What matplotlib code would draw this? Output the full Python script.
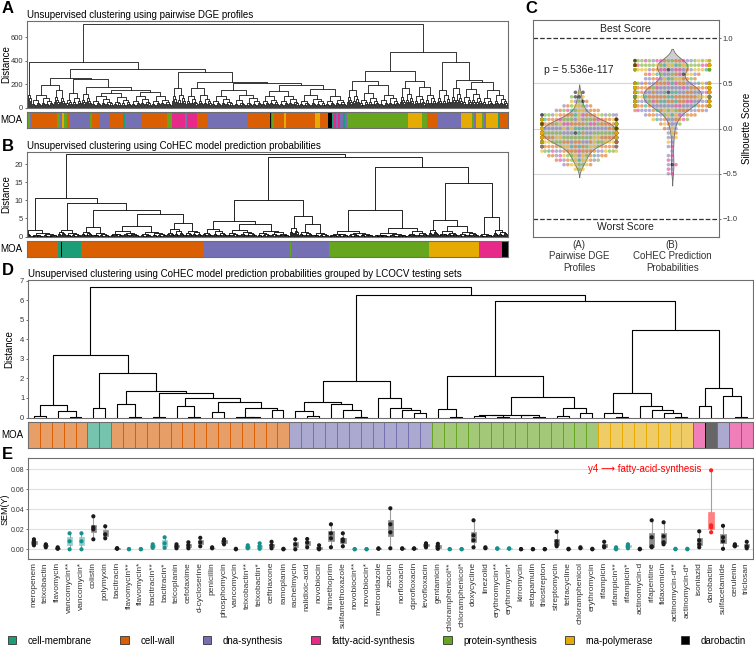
import warnings
warnings.filterwarnings('ignore')
import matplotlib
matplotlib.use('Agg')
import matplotlib.pyplot as plt
from matplotlib.collections import LineCollection
from matplotlib.patches import Patch
import seaborn as sns
import pandas as pd

plt.rcParams['font.family'] = ['Liberation Sans', 'DejaVu Sans']

# ---------------- categories ----------------
MOA_NAMES = ['cell-membrane', 'cell-wall', 'dna-synthesis', 'fatty-acid-synthesis',
             'protein-synthesis', 'rna-polymerase', 'darobactin']
MOA_COLORS = ['#1b9e77', '#d95f02', '#7570b3', '#e7298a', '#66a61e', '#e6ab02', '#000000']
K = dict(mem='cell-membrane', wall='cell-wall', dna='dna-synthesis', fas='fatty-acid-synthesis',
         pro='protein-synthesis', rna='rna-polymerase', dar='darobactin')

# ---------------- panel A: dendrogram (bundles = ('b', n_leaves, height)) ----------------
A_TREE = (712,
  (392,
    ('b', 5, 110),
    (326,
      (255,
        (191, ('b', 22, 110), (146, ('b', 6, 90), ('b', 6, 80))),
        (240, ('b', 16, 120),
              (178, ('b', 10, 115),
                    (148, (120, ('b', 22, 100), ('b', 18, 90)),
                          (135, ('b', 20, 100), ('b', 20, 95)))))),
      (306,
        (163, ('b', 6, 100), ('b', 8, 110)),
        (220, (170, ('b', 12, 100), ('b', 14, 105)),
              (206, (150, ('b', 22, 100), ('b', 28, 110)),
                    (190, (140, ('b', 18, 95), ('b', 20, 100)),
                          (160, ('b', 26, 105), ('b', 21, 95)))))))),
  (470,
    (312,
      (226, (149, ('b', 6, 90), ('b', 7, 100)), (192, ('b', 20, 120), ('b', 20, 110))),
      (226, ('b', 14, 163), (177, ('b', 12, 100), ('b', 11, 110)))),
    (392, ('b', 14, 149), (234, ('b', 12, 163), (220, ('b', 20, 160), ('b', 25, 150))))))

A_STRIP_MOA = ['mem', 'pro', 'dna', 'wall', 'pro', 'dna', 'rna', 'pro', 'wall', 'dna', 'pro', 'wall',
               'dna', 'wall', 'mem', 'dna', 'wall', 'dna', 'wall', 'dna', 'wall', 'pro', 'fas', 'dna',
               'fas', 'wall', 'dna', 'wall', 'dar', 'mem', 'pro', 'wall', 'rna', 'wall', 'rna', 'wall',
               'dar', 'mem', 'fas', 'dna', 'fas', 'dna', 'mem', 'dna', 'pro', 'rna', 'pro', 'wall',
               'dna', 'rna', 'pro', 'dna', 'rna', 'pro', 'dna', 'rna', 'mem', 'wall']
A_STRIP_LEN = [1, 2, 2, 25, 3, 2, 2, 3, 3, 20, 2, 8,
               10, 13, 2, 17, 15, 1, 3, 1, 5, 5, 13, 2,
               10, 10, 41, 22, 1, 1, 2, 10, 2, 29, 5, 8,
               4, 2, 2, 2, 2, 3, 2, 2, 61, 14, 5, 10,
               24, 11, 2, 2, 6, 2, 2, 12, 2, 8]

# ---------------- panel B ----------------
B_TREE = (22.8,
  (10.7,
    (1.68, ('b', 4, 0.7), ('b', 27, 0.9)),
    (9.4,
      (1.9, ('b', 8, 1.2), ('b', 15, 1.0)),
      (7.3,
        (2.6, ('b', 12, 1.3), ('b', 17, 1.0)),
        (6.25,
          (2.8, ('b', 30, 1.5), ('b', 27, 1.3)),
          (3.8, ('b', 18, 2.0), ('b', 18, 1.6)))))),
  (22.0,
    (10.05,
      (4.3, ('b', 24, 2.0), (3.4, ('b', 30, 1.8), ('b', 33, 1.6))),
      (5.6, ('b', 9, 2.3), (3.5, ('b', 14, 1.2), ('b', 16, 1.0)))),
    (19.2,
      (7.45, ('b', 45, 1.5), (2.3, ('b', 34, 1.0), ('b', 21, 1.4))),
      (14.9,
        (4.66, ('b', 10, 1.8), (3.0, ('b', 20, 1.5), ('b', 20, 1.2))),
        (5.4, ('b', 14, 0.6), ('b', 15, 1.8))))))

B_STRIP_MOA = ['wall', 'mem', 'dar', 'mem', 'wall', 'dna', 'pro', 'dna', 'pro', 'rna', 'fas', 'dar']
B_STRIP_LEN = [31, 3, 1, 19, 122, 87, 1, 38, 100, 50, 23, 6]

# ---------------- panel D ----------------
D_TREE = (6.70,
  (3.22,
    (0.63, (0.07, 0, 1), (0.31, 2, (0.01, 3, 4))),
    (2.28,
      (0.48, 5, 6),
      (1.37,
        (0.69, 7, (0.01, 8, 9)),
        (1.25,
          (0.05, 10, 11),
          (0.99,
            (0.58, 12, (0.05, 13, 14)),
            (0.82,
              (0.26, 15, 16),
              (0.51, (0.02, 17, (0.005, 18, 19)), (0.38, 20, 21)))))))),
  (6.27,
    (1.88,
      (0.82,
        (0.33, 22, (0.10, 23, 24)),
        (0.67, 25, (0.36, 26, (0.01, 27, 28)))),
      (0.99, 29, (0.48, 30, (0.38, 31, (0.22, 32, 33))))),
    (5.96,
      (2.14,
        (0.43, 34, (0.01, 35, 36)),
        (1.03,
          (0.15, (0.14, (0.09, 37, 38), (0.05, 39, 40)), (0.11, 41, (0.03, 42, 43))),
          (0.48, (0.09, 44, 45), (0.24, 46, 47)))),
      (4.51,
        (1.25,
          (0.21, 48, (0.02, 49, 50)),
          (0.57, 51, (0.36, 52, (0.21, 53, (0.01, 54, 55))))),
        (1.51,
          (0.57, 56, 57),
          (1.11, 58, (0.05, 59, 60)))))))
D_STRIP_MOA = ['wall', 'mem', 'wall', 'dna', 'pro', 'rna', 'fas', 'dar', 'dna', 'fas']
D_STRIP_LEN = [5, 2, 15, 12, 14, 8, 1, 1, 1, 2]

# ---------------- panel C: silhouette scores (binned counts per MOA) ----------------
C_BINS_A = [-0.45, -0.40, -0.35, -0.30, -0.25, -0.20, -0.15, -0.10, -0.05, 0.00,
            0.05, 0.10, 0.15, 0.20, 0.25, 0.30, 0.35, 0.40]
C_COUNTS_A = {
    'mem':  [0, 0, 1, 1, 1, 2, 3, 3, 3, 3, 3, 2, 1, 1, 0, 0, 0, 0],
    'wall': [0, 2, 3, 5, 8, 11, 20, 24, 26, 26, 22, 14, 7, 4, 2, 1, 0, 0],
    'dna':  [0, 1, 2, 3, 4, 6, 11, 14, 15, 15, 13, 9, 5, 2, 2, 1, 0, 0],
    'fas':  [0, 0, 1, 1, 2, 2, 4, 4, 5, 5, 4, 3, 1, 1, 0, 0, 0, 0],
    'pro':  [1, 2, 2, 3, 3, 5, 9, 11, 12, 12, 11, 8, 4, 2, 2, 1, 1, 0],
    'rna':  [2, 3, 3, 3, 3, 4, 7, 9, 9, 9, 7, 5, 3, 2, 2, 1, 1, 1],
    'dar':  [0, 0, 0, 0, 0, 0, 0, 0, 1, 1, 1, 1, 1, 0, 0, 1, 2, 2],
}
C_BINS_B = [-0.50, -0.45, -0.40, -0.35, -0.30, -0.25, -0.20, -0.15, -0.10, -0.05, 0.00,
            0.05, 0.10, 0.15, 0.20, 0.25, 0.30, 0.35, 0.40, 0.45, 0.50, 0.55, 0.60,
            0.65, 0.70, 0.75]
C_COUNTS_B = {
    'mem':  [0, 0, 0, 0, 0, 0, 0, 0, 0, 0, 0, 0, 1, 1, 1, 3, 3, 3, 3, 3, 2, 1, 1, 2, 3, 2],
    'wall': [0, 0, 0, 0, 0, 0, 0, 0, 0, 1, 1, 2, 3, 5, 8, 22, 26, 26, 26, 22, 12, 4, 3, 3, 5, 3],
    'dna':  [1, 1, 1, 1, 1, 1, 1, 1, 2, 1, 2, 2, 3, 4, 6, 11, 14, 14, 14, 13, 9, 3, 3, 4, 6, 3],
    'fas':  [1, 1, 1, 1, 1, 0, 1, 0, 0, 0, 0, 0, 1, 1, 1, 2, 3, 3, 3, 3, 2, 1, 2, 4, 7, 4],
    'pro':  [0, 0, 0, 0, 0, 0, 0, 0, 0, 0, 0, 1, 1, 1, 2, 4, 5, 5, 6, 6, 4, 2, 2, 7, 13, 7],
    'rna':  [0, 0, 0, 0, 0, 0, 0, 1, 1, 1, 1, 1, 1, 2, 2, 4, 5, 5, 6, 6, 4, 3, 3, 7, 11, 6],
    'dar':  [0, 0, 1, 0, 0, 0, 0, 0, 0, 0, 0, 0, 0, 0, 0, 0, 0, 0, 1, 0, 0, 0, 1, 1, 1, 1],
}
C_GROUPS = ['(A)\nPairwise DGE\nProfiles', '(B)\nCoHEC Prediction\nProbabilities']
C_PVALUE = 'p = 5.536e-117'

# ---------------- panel E ----------------
E_LABELS = ['meropenem', 'teixobactin', 'flavomycin', 'vancomycin**', 'vancomycin*', 'colistin',
            'polymyxin', 'bacitracin', 'flavomycin**', 'flavomycin*', 'bacitracin**', 'bacitracin*',
            'teicoplanin', 'cefotaxime', 'd-cycloserine', 'penicillin', 'phosphomycin', 'vancomycin',
            'teixobactin**', 'teixobactin*', 'ceftriaxone', 'ramoplanin', 'rachelmycin',
            'nalidixic-acid', 'novobiocin', 'trimethoprim', 'sulfamethoxazole', 'novobiocin**',
            'novobiocin*', 'metronidazole', 'zeocin', 'norfloxacin', 'ciprofloxacin', 'levofloxacin',
            'gentamicin', 'chloramphenicol**', 'chloramphenicol*', 'doxycycline', 'linezolid',
            'erythromycin**', 'erythromycin*', 'kirromycin', 'retapamulin', 'thiostrepton',
            'streptomycin', 'tetracycline', 'chloramphenicol', 'erythromycin', 'rifampicin',
            'rifampicin**', 'rifampicin*', 'actinomycin-d', 'rifapentine', 'fidaxomicin',
            'actinomycin-d**', 'actinomycin-d*', 'isoniazid', 'darobactin', 'sulfacetamide',
            'cerulenin', 'triclosan']
E_VALUES = [
    [0.010, 0.008, 0.006, 0.004], [0.005, 0.004, 0.002], [0.002, 0.001, 0.0005],
    [0.016, 0.008, 0.0], [0.016, 0.008, 0.0], [0.033, 0.022, 0.020, 0.010],
    [0.023, 0.015, 0.011], [0.001, 0.0005, 0.001], [0.0, 0.0003], [0.0, 0.0003],
    [0.005, 0.003, 0.0015], [0.012, 0.006, 0.0015], [0.005, 0.003, 0.001],
    [0.007, 0.004, 0.001], [0.0115, 0.007, 0.003], [0.002, 0.001], [0.010, 0.008, 0.005],
    [0.0, 0.0005], [0.004, 0.002, 0.001], [0.006, 0.003, 0.0005], [0.0075, 0.004, 0.001],
    [0.0, 0.0005], [0.010, 0.005, 0.0], [0.0103, 0.0067, 0.002], [0.004, 0.001, 0.0],
    [0.025, 0.016, 0.011, 0.002], [0.016, 0.010, 0.008, 0.003], [0.0, 0.0002], [0.0, 0.0002],
    [0.0005, 0.001], [0.041, 0.025, 0.017, 0.001], [0.001, 0.0005], [0.0005, 0.001],
    [0.006, 0.004, 0.002], [0.0055, 0.003, 0.0005], [0.0003, 0.0], [0.0003, 0.0],
    [0.029, 0.014, 0.009, 0.002], [0.002, 0.001], [0.001, 0.0005], [0.001, 0.0005],
    [0.0003, 0.0], [0.0003, 0.0], [0.0003, 0.0], [0.0175, 0.008, 0.005, 0.003],
    [0.0005, 0.0], [0.002, 0.001], [0.0005, 0.0], [0.0075, 0.003, 0.002],
    [0.002, 0.001, 0.0], [0.005, 0.003, 0.001], [0.0005, 0.0], [0.029, 0.012, 0.003, 0.002],
    [0.027, 0.013, 0.007, 0.005], [0.0005, 0.0], [0.0005, 0.0], [0.018, 0.009, 0.005, 0.002],
    [0.079, 0.024, 0.022, 0.017], [0.0235, 0.012, 0.008, 0.0005], [0.005, 0.004, 0.003],
    [0.0075, 0.003, 0.001]]
E_NOTE = 'y4 \u27f6 fatty-acid-synthesis'

# =====================================================================
W, H = 754, 652
fig = plt.figure(figsize=(W / 100, H / 100), dpi=100)
fig.patch.set_facecolor('white')
COL = dict(zip(MOA_NAMES, MOA_COLORS))


def rect(x0, y0, x1, y1):
    return [x0 / W, 1 - y1 / H, (x1 - x0) / W, (y1 - y0) / H]


def style(ax):
    for s in ax.spines.values():
        s.set_color('#6e6e6e')
        s.set_linewidth(0.8)
    ax.tick_params(labelsize=5.5, length=1.5, width=0.5, colors='#333333', pad=1.2)


def ylabel_at(ax, text, right_px, left_px, width_px, fs=7):
    ax.set_ylabel(text, fontsize=fs)
    ax.yaxis.set_label_coords((right_px - left_px) / width_px, 0.5)


def walk(node, state, segs):
    if isinstance(node, int):
        return node + 0.5, 0.0
    if node[0] == 'b':
        _, n, h = node
        if n == 1:
            x = state[0] + 0.5
            state[0] += 1
            return x, 0.0
        a = max(1, (n * 9) // 20)
        return walk((h, ('b', a, h * 0.55), ('b', n - a, h * 0.7)), state, segs)
    h, l, r = node
    xl, hl = walk(l, state, segs)
    xr, hr = walk(r, state, segs)
    segs.append([(xl, hl), (xl, h), (xr, h), (xr, hr)])
    return (xl + xr) / 2, h


def dendro(ax, tree, lw, n=None):
    segs, state = [], [0]
    walk(tree, state, segs)
    ax.add_collection(LineCollection(segs, colors='black', linewidths=lw, capstyle='butt'))
    n = n if n is not None else state[0]
    ax.set_xlim(0, n)
    ax.set_xticks([])
    style(ax)
    return n


def strip(ax, moas, lens, n, alpha=1.0, cells=False):
    left = 0
    for m, L in zip(moas, lens):
        c = COL[K[m]]
        if cells:
            for j in range(L):
                ax.bar(left + j, 1, width=1, align='edge', color=c, alpha=alpha,
                       edgecolor='none')
                ax.bar(left + j, 1, width=1, align='edge', facecolor='none',
                       edgecolor=c, linewidth=0.6)
        else:
            ax.bar(left, 1, width=L, align='edge', color=c, edgecolor='none')
        left += L
    ax.set_xlim(0, n)
    ax.set_ylim(0, 1)
    ax.set_xticks([])
    ax.set_yticks([])
    ax.set_ylabel('MOA', rotation=0, ha='right', va='center', fontsize=7, labelpad=3)
    style(ax)


# ---- A ----
axA = fig.add_axes(rect(27, 21, 507.7, 107.5))
nA = dendro(axA, A_TREE, 0.55)
axA.set_ylim(0, 738)
axA.set_yticks([0, 200, 400, 600])
ylabel_at(axA, 'Distance', 11.5, 27, 480.7)
axA.set_title('Unsupervised clustering using pairwise DGE profiles', loc='left', fontsize=7, pad=2)
axAs = fig.add_axes(rect(27, 112, 507.7, 128))
strip(axAs, A_STRIP_MOA, A_STRIP_LEN, nA)

# ---- B ----
axB = fig.add_axes(rect(27, 151.5, 507.7, 236.5))
nB = dendro(axB, B_TREE, 0.6)
axB.set_ylim(0, 23.6)
axB.set_yticks([0, 5, 10, 15, 20])
ylabel_at(axB, 'Distance', 11.5, 27, 480.7)
axB.set_title('Unsupervised clustering using CoHEC model prediction probabilities', loc='left',
              fontsize=7, pad=2)
axBs = fig.add_axes(rect(27, 240.5, 507.7, 257))
strip(axBs, B_STRIP_MOA, B_STRIP_LEN, nB)

# ---- D ----
axD = fig.add_axes(rect(28, 280, 752.7, 417.5))
nD = dendro(axD, D_TREE, 0.8, n=61)
axD.set_ylim(0, 7.05)
axD.set_yticks(range(8))
ylabel_at(axD, 'Distance', 14, 28, 724.7)
axD.set_title('Unsupervised clustering using CoHEC model prediction probabilities grouped by '
              'LCOCV testing sets', loc='left', fontsize=7, pad=2)
axDs = fig.add_axes(rect(28, 421.7, 752.7, 448))
strip(axDs, D_STRIP_MOA, D_STRIP_LEN, nD, alpha=0.6, cells=True)

# ---- C ----
axC = fig.add_axes(rect(532.7, 20, 718.7, 237))
rows = []
for g, bins, counts in [(C_GROUPS[0], C_BINS_A, C_COUNTS_A), (C_GROUPS[1], C_BINS_B, C_COUNTS_B)]:
    for key, cl in counts.items():
        for b, c in zip(bins, cl):
            rows += [(g, b, K[key])] * c
dfC = pd.DataFrame(rows, columns=['group', 'score', 'moa'])
for yv in [0.5, 0.0, -0.5]:
    axC.axhline(yv, color='#d6d6d6', lw=0.8, zorder=0)
for yv in [1.0, -1.0]:
    axC.axhline(yv, color='#333333', lw=0.9, ls='--', zorder=0)
sns.violinplot(data=dfC, x='group', y='score', order=C_GROUPS, color='#cfcfcf', inner=None,
               linewidth=0.6, linecolor='#707070', ax=axC)
sns.swarmplot(data=dfC, x='group', y='score', order=C_GROUPS, hue='moa', hue_order=MOA_NAMES,
              palette=COL, size=2.6, alpha=0.55, legend=False, ax=axC)
axC.set_xlim(-0.5, 1.5)
axC.set_ylim(-1.2, 1.2)
axC.set_xlabel('')
axC.yaxis.tick_right()
axC.yaxis.set_label_position('right')
axC.set_yticks([-1.0, -0.5, 0.0, 0.5, 1.0])
axC.set_yticklabels(['\u22121.0', '\u22120.5', '0.0', '0.5', '1.0'])
axC.set_ylabel('Silhouette Score', fontsize=7, labelpad=3)
style(axC)
axC.tick_params(axis='x', labelsize=7, length=0, pad=2)
axC.text(0.5, 1.1, 'Best Score', ha='center', va='center', fontsize=7.5, color='#222222')
axC.text(0.5, -1.09, 'Worst Score', ha='center', va='center', fontsize=7.5, color='#222222')
axC.text(0.0, 0.65, C_PVALUE, ha='center', va='center', fontsize=7.5, color='#222222')

# ---- E ----
axE = fig.add_axes(rect(28, 458.3, 752.7, 559.3))
pos = list(range(len(E_LABELS)))
box_fc, pt_c = [], []
for lab in E_LABELS:
    if lab == 'darobactin':
        box_fc.append('#ff8080'); pt_c.append('#ff2020')
    elif '*' in lab:
        box_fc.append('#93d1cc'); pt_c.append('#178f8c')
    else:
        box_fc.append('#8c8c8c'); pt_c.append('#1a1a1a')
bp = axE.boxplot(E_VALUES, positions=pos, widths=0.45, patch_artist=True, whis=(0, 100),
                 showfliers=False, showcaps=False, manage_ticks=False,
                 whiskerprops=dict(color='#a0a0a0', lw=0.8),
                 medianprops=dict(lw=0))
for patch, fc in zip(bp['boxes'], box_fc):
    patch.set_facecolor(fc)
    patch.set_edgecolor(fc)
    patch.set_linewidth(0.5)
for i, vals in enumerate(E_VALUES):
    axE.scatter([i] * len(vals), vals, s=9, color=pt_c[i], zorder=3, edgecolors='none')
axE.set_xlim(-0.5, len(E_LABELS) - 0.5)
axE.set_ylim(-0.01, 0.091)
axE.set_yticks([0.0, 0.02, 0.04, 0.06, 0.08])
axE.set_yticklabels(['0.00', '0.02', '0.04', '0.06', '0.08'])
axE.yaxis.grid(True, color='#e0e0e0', lw=0.8)
axE.set_axisbelow(True)
axE.set_xticks(pos)
axE.set_xticklabels(E_LABELS, rotation=90)
style(axE)
axE.tick_params(axis='y', labelsize=5, pad=1)
axE.tick_params(axis='x', labelsize=6, length=0, pad=2)
ylabel_at(axE, 'SEM(\u0176)', 10, 28, 724.7, fs=6.5)
axE.text(56.2, 0.080, E_NOTE, color='red', ha='right', va='center', fontsize=7)

# ---- panel letters ----
for letter, x, y in [('A', 2, 1), ('B', 2, 139), ('C', 525, 1), ('D', 2, 263), ('E', 2, 447)]:
    fig.text(x / W, 1 - y / H, letter, fontsize=12, fontweight='bold', va='top', ha='left')

# ---- legend ----
handles = [Patch(facecolor=c, edgecolor='#333333', linewidth=0.6) for c in MOA_COLORS]
fig.legend(handles, MOA_NAMES, loc='lower left', bbox_to_anchor=(0.005, 0.004, 0.99, 0.035),
           mode='expand', ncol=7, frameon=False, fontsize=7, handlelength=0.9,
           handleheight=0.9, borderaxespad=0, handletextpad=1.2)

fig.savefig('out.png', dpi=100)
